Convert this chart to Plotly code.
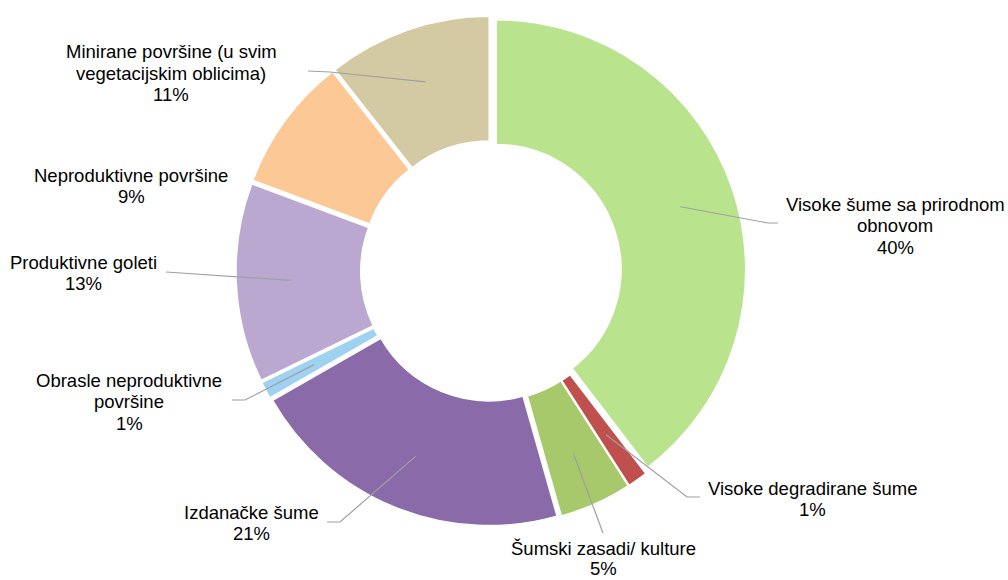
import math
import plotly.graph_objects as go

# ---- data ----
categories = [
    "Visoke šume sa prirodnom obnovom",
    "Visoke degradirane šume",
    "Šumski zasadi/ kulture",
    "Izdanačke šume",
    "Obrasle neproduktivne površine",
    "Produktivne goleti",
    "Neproduktivne površine",
    "Minirane površine (u svim vegetacijskim oblicima)",
]
display_labels = [
    ["Visoke šume sa prirodnom", "obnovom"],
    ["Visoke degradirane šume"],
    ["Šumski zasadi/ kulture"],
    ["Izdanačke šume"],
    ["Obrasle neproduktivne", "površine"],
    ["Produktivne goleti"],
    ["Neproduktivne površine"],
    ["Minirane površine (u svim", "vegetacijskim oblicima)"],
]
values = [39.6, 1.3, 4.7, 21.1, 1.1, 12.9, 8.7, 10.6]
colors = ["#b9e48d", "#c0504d", "#a8c96b", "#8a6aa8",
          "#9fd2f0", "#baa8d0", "#fbc896", "#d3caa4"]

# ---- layout constants (pixels) ----
W, H = 1008, 580
CX, CY, RBOX = 491, 271, 255
PULL = 0.022
HOLE = 0.5
R = RBOX / (1 + PULL)
ANCHOR_R = 0.78 * R
LINE_H = 21.5
FONT = dict(family="Liberation Sans, Arial, sans-serif", size=18.5, color="#000000")

# label text: centre x, first-line y (px), line spacing; leader-line points after the anchor
label_pos = [
    (895, 204, LINE_H), (812, 488, LINE_H), (603, 548, 20.0), (251, 512, LINE_H),
    (129, 380, LINE_H), (83, 262, LINE_H), (131, 175, LINE_H), (171, 52, LINE_H),
]
leader_end = [
    [(768, 223), (778, 223)],
    [(687, 497), (700, 497)],
    [(603, 533)],
    [(340, 522), (327, 522)],
    [(245, 400), (232, 400)],
    [(166, 272)],
    None,
    [(330, 72), (308, 71)],
]

def px2paper(x, y):
    return x / W, 1 - y / H

total = sum(values)
fig = go.Figure()
fig.add_trace(go.Pie(
    labels=categories,
    values=values,
    sort=False,
    direction="clockwise",
    rotation=0,
    hole=HOLE,
    pull=[PULL] * len(values),
    marker=dict(colors=colors, line=dict(color="#ffffff", width=1.5)),
    textinfo="none",
    hoverinfo="label+percent",
    showlegend=False,
    domain=dict(
        x=[(CX - RBOX) / W, (CX + RBOX) / W],
        y=[1 - (CY + RBOX) / H, 1 - (CY - RBOX) / H],
    ),
))

annotations = []
shapes = []
cum = 0.0
for i, v in enumerate(values):
    mid = (cum + v / 2) / total
    cum += v
    ang = 2 * math.pi * mid
    ax = CX + (ANCHOR_R + PULL * R) * math.sin(ang)
    ay = CY - (ANCHOR_R + PULL * R) * math.cos(ang)
    tx, ty, lh = label_pos[i]
    pct = f"{round(v / total * 100):d}%"
    lines = display_labels[i] + [pct]
    for k, line in enumerate(lines):
        annotations.append(dict(
            x=tx / W, y=1 - (ty + k * lh) / H, xref="paper", yref="paper",
            text=line, showarrow=False,
            xanchor="center", yanchor="middle", align="center",
            font=FONT,
        ))
    if leader_end[i] is not None:
        pts = [(ax, ay)] + leader_end[i]
        path = "M " + " L ".join(f"{px2paper(x, y)[0]:.5f},{px2paper(x, y)[1]:.5f}" for x, y in pts)
        shapes.append(dict(type="path", path=path, xref="paper", yref="paper",
                           line=dict(color="#a0a0a0", width=1.2)))

fig.update_layout(
    width=W, height=H,
    margin=dict(l=0, r=0, t=0, b=0),
    paper_bgcolor="#ffffff",
    plot_bgcolor="#ffffff",
    annotations=annotations,
    shapes=shapes,
)
fig.write_html(
    "out.html",
    config={"displayModeBar": False},
    post_script="document.body.style.margin='0';document.body.style.overflow='hidden';",
)
